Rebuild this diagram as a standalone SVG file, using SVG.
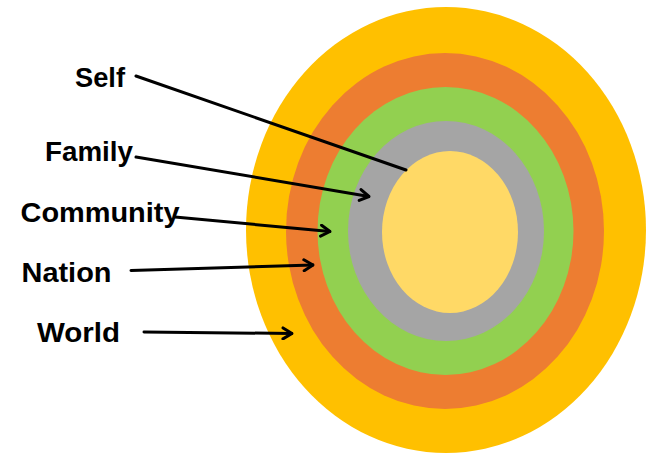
<svg xmlns="http://www.w3.org/2000/svg" width="648" height="455" viewBox="0 0 648 455">
<style>
.lbl{font-family:"Liberation Sans",Arial,sans-serif;font-weight:bold;font-size:28.5px;fill:#000}
.conn{stroke:#000;stroke-width:3;fill:none;stroke-linecap:round}
</style>
<defs>
<marker id="ah" viewBox="0 0 12 14" refX="11" refY="7" markerWidth="12" markerHeight="14" markerUnits="userSpaceOnUse" orient="auto">
<path d="M2,1.5 L11,7 L2,12.5" fill="none" stroke="#000" stroke-width="3" stroke-linecap="round" stroke-linejoin="round"/>
</marker>
</defs>
<rect width="648" height="455" fill="#fff"/>
<g id="world"><ellipse cx="446" cy="230" rx="200" ry="223" fill="#FFC000"/></g>
<g id="nation"><ellipse cx="445" cy="231" rx="159" ry="178" fill="#ED7D31"/></g>
<g id="community"><ellipse cx="445.5" cy="231" rx="128" ry="144" fill="#92D050"/></g>
<g id="family"><ellipse cx="446" cy="231" rx="98" ry="110" fill="#A5A5A5"/></g>
<g id="self"><ellipse cx="450" cy="232" rx="68" ry="81" fill="#FFD966"/></g>
<g id="labels">
<text class="lbl" x="75" y="87" textLength="50" lengthAdjust="spacingAndGlyphs">Self</text>
<text class="lbl" x="45" y="161" textLength="88" lengthAdjust="spacingAndGlyphs">Family</text>
<text class="lbl" x="20.5" y="222" textLength="159" lengthAdjust="spacingAndGlyphs">Community</text>
<text class="lbl" x="21.5" y="282" textLength="90" lengthAdjust="spacingAndGlyphs">Nation</text>
<text class="lbl" x="37" y="342" textLength="83" lengthAdjust="spacingAndGlyphs">World</text>
</g>
<g id="connectors">
<line class="conn" x1="136" y1="76" x2="406" y2="170"/>
<line class="conn" x1="136" y1="157" x2="369" y2="196.5" marker-end="url(#ah)"/>
<line class="conn" x1="175" y1="217" x2="330" y2="231.5" marker-end="url(#ah)"/>
<line class="conn" x1="131" y1="270.5" x2="313" y2="265" marker-end="url(#ah)"/>
<line class="conn" x1="144" y1="332" x2="292" y2="333.5" marker-end="url(#ah)"/>
</g>
</svg>
